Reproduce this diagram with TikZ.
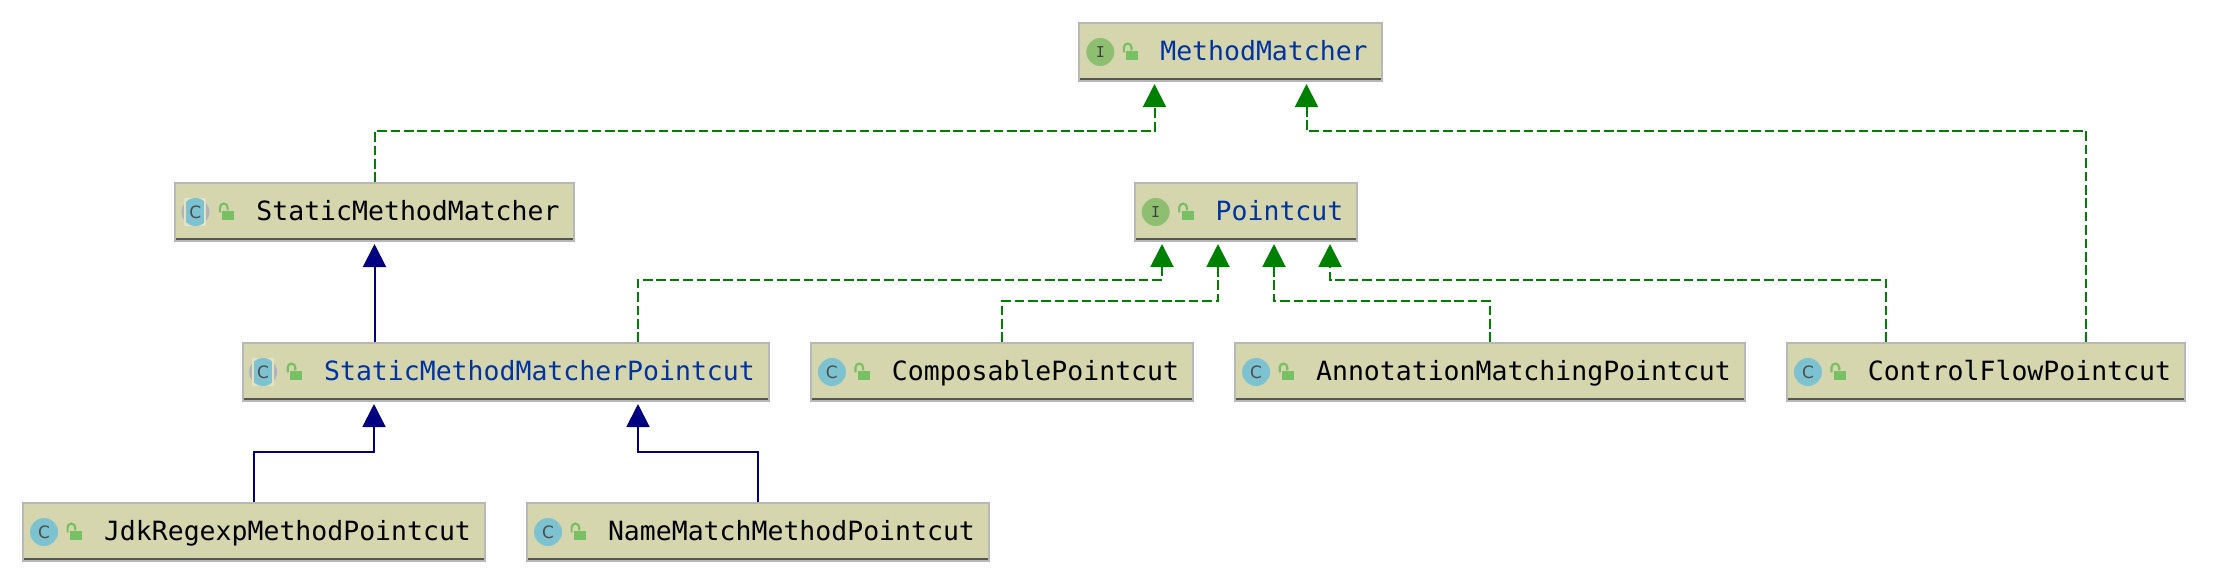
\documentclass[tikz,border=0pt]{standalone}
\usepackage{fontspec}
\setmonofont{DejaVu Sans Mono}
\newfontfamily\iconfont{DejaVu Sans}
\usetikzlibrary{arrows.meta}
\definecolor{boxfill}{RGB}{214,214,174}
\definecolor{boxedge}{RGB}{184,184,184}
\definecolor{boxbase}{RGB}{85,85,85}
\definecolor{ifacegreen}{RGB}{142,190,112}
\definecolor{classcyan}{RGB}{124,194,208}
\definecolor{ringgray}{RGB}{176,180,188}
\definecolor{lockgreen}{RGB}{120,192,100}
\definecolor{absblue}{RGB}{0,51,160}
\definecolor{implgreen}{RGB}{0,128,0}
\definecolor{extnavy}{RGB}{0,0,128}
\tikzset{
  classbox/.style={draw=boxedge,line width=1pt,fill=boxfill,font=\ttfamily\fontsize{13.25}{15}\selectfont,
    inner xsep=7pt,inner ysep=0pt,minimum height=29pt,text height=10pt,text depth=1.8pt},
  realizes/.style={implgreen,line width=1pt,dash pattern=on 4.8pt off 1.9pt,-{Triangle[length=11.5pt,width=11.5pt,fill=implgreen]},shorten >=1pt},
  extends/.style={extnavy,line width=1pt,-{Triangle[length=11.5pt,width=11.5pt,fill=extnavy]},shorten >=1pt},
  iconletter/.style={font=\iconfont\fontsize{8.5}{8}\selectfont,inner sep=0pt,text=black!70},
  ifaceletter/.style={font=\ttfamily\fontsize{7.5}{8}\selectfont,inner sep=0pt,text=black!75},
}
% box with its bottom rule and lock
\newcommand{\umlbox}[4]{
  \node[classbox] (#1) at (#2,#3) {\hspace*{33.5pt}#4};
  \draw[boxbase,line width=1.3pt] ([xshift=1pt,yshift=1.5pt]#1.south west) -- ([xshift=-1pt,yshift=1.5pt]#1.south east);
  \fill[lockgreen] ([xshift=24pt,yshift=.6pt]#1.west) rectangle ([xshift=30pt,yshift=-4pt]#1.west);
  \draw[lockgreen,line width=1.1pt] ([xshift=22.8pt,yshift=-.2pt]#1.west) -- ([xshift=22.8pt,yshift=2.3pt]#1.west)
    arc (180:0:1.9pt) -- ++(0,-1.5pt);
}
\newcommand{\ifaceicon}[1]{
  \node[circle,fill=ifacegreen,minimum size=14pt,ifaceletter] (#1icon) at ([xshift=11pt]#1.west) {I};
}
\newcommand{\classicon}[1]{
  \node[circle,fill=classcyan,minimum size=14pt,iconletter] (#1icon) at ([xshift=11pt]#1.west) {C};
}
\newcommand{\absicon}[1]{
  \fill[ringgray] ([xshift=10.5pt]#1.west) circle (7pt);
  \fill[boxfill!70!white] ([xshift=5pt,yshift=-7pt]#1.west) rectangle ([xshift=16pt,yshift=7pt]#1.west);
  \begin{scope}
    \clip ([xshift=10.5pt]#1.west) circle (7pt);
    \fill[classcyan] ([xshift=6pt,yshift=-7pt]#1.west) rectangle ([xshift=15pt,yshift=7pt]#1.west);
  \end{scope}
  \node[iconletter] (#1icon) at ([xshift=10.5pt]#1.west) {C};
}

\begin{document}
\begin{tikzpicture}[x=0.5pt,y=-0.5pt]
  \useasboundingbox (-0.5,0) rectangle (2217.5,586);
  % top row
  \umlbox{matcher}{1230}{52}{\textcolor{absblue}{MethodMatcher}} \ifaceicon{matcher}
  \umlbox{pointcut}{1245.5}{212}{\textcolor{absblue}{Pointcut}} \ifaceicon{pointcut}
  \umlbox{staticmm}{374}{212}{StaticMethodMatcher} \absicon{staticmm}
  % middle row
  \umlbox{staticpc}{505.5}{372}{\textcolor{absblue}{StaticMethodMatcherPointcut}} \absicon{staticpc}
  \umlbox{composable}{1001.5}{372}{ComposablePointcut} \classicon{composable}
  \umlbox{annotation}{1489.5}{372}{AnnotationMatchingPointcut} \classicon{annotation}
  \umlbox{controlflow}{1985.5}{372}{ControlFlowPointcut} \classicon{controlflow}
  % bottom row
  \umlbox{jdkregexp}{253.5}{532}{JdkRegexpMethodPointcut} \classicon{jdkregexp}
  \umlbox{namematch}{757.5}{532}{NameMatchMethodPointcut} \classicon{namematch}
  % implements
  \draw[realizes] (staticmm.north) -- ++(0,-51) -| ([xshift=-38pt]matcher.south);
  \draw[realizes] ([xshift=50pt]controlflow.north) -- ++(0,-211) -| ([xshift=38pt]matcher.south);
  \draw[realizes] ([xshift=66pt]staticpc.north) -- ++(0,-62) -| ([xshift=-42pt]pointcut.south);
  \draw[realizes] (composable.north) -- ++(0,-41) -| ([xshift=-14pt]pointcut.south);
  \draw[realizes] (annotation.north) -- ++(0,-41) -| ([xshift=14pt]pointcut.south);
  \draw[realizes] ([xshift=-50pt]controlflow.north) -- ++(0,-62) -| ([xshift=42pt]pointcut.south);
  % extends
  \draw[extends] (staticpc.north -| staticmm.south) -- (staticmm.south);
  \draw[extends] (jdkregexp.north) -- ++(0,-50) -| ([xshift=-66pt]staticpc.south);
  \draw[extends] (namematch.north) -- ++(0,-50) -| ([xshift=66pt]staticpc.south);
\end{tikzpicture}
\end{document}
